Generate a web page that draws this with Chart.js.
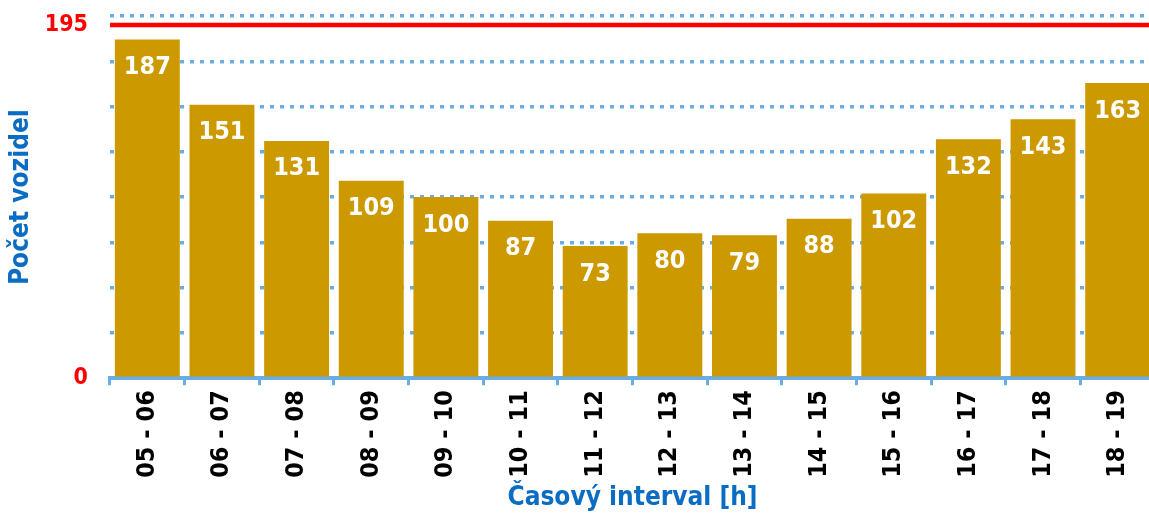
<!DOCTYPE html>
<html>
<head>
<meta charset="utf-8">
<script src="https://cdn.jsdelivr.net/npm/chart.js@4"></script>
<style>
  html, body { margin: 0; padding: 0; overflow: hidden; background: #fff; }
  #wrap { position: absolute; left: 0; top: 0; width: 1155px; height: 514px; }
</style>
</head>
<body>
<div id="wrap"><canvas id="myChart"></canvas></div>
<script>
'use strict';

const intervals = [
  '05 - 06', '06 - 07', '07 - 08', '08 - 09', '09 - 10', '10 - 11', '11 - 12',
  '12 - 13', '13 - 14', '14 - 15', '15 - 16', '16 - 17', '17 - 18', '18 - 19'
];
const vehicles = [187, 151, 131, 109, 100, 87, 73, 80, 79, 88, 102, 132, 143, 163];
const limitValue = 195;
const yLabels = [0, limitValue];

const font = 'DejaVu Sans Condensed';
const gridBlue = '#6aade4';
const titleBlue = '#0a6cc2';

// red limit line across the plot
const limitLine = {
  id: 'limitLine',
  beforeDatasetsDraw(chart) {
    const ctx = chart.ctx;
    const y = chart.scales.y.getPixelForValue(limitValue);
    ctx.save();
    ctx.strokeStyle = '#ff0000';
    ctx.lineWidth = 4.5;
    ctx.beginPath();
    ctx.moveTo(chart.chartArea.left, y);
    ctx.lineTo(chart.chartArea.right, y);
    ctx.stroke();
    ctx.restore();
  }
};

// white values inside the top of each bar
const barValues = {
  id: 'barValues',
  afterDatasetsDraw(chart) {
    const ctx = chart.ctx;
    const meta = chart.getDatasetMeta(0);
    ctx.save();
    ctx.fillStyle = '#ffffff';
    ctx.font = 'bold 25px "' + font + '"';
    ctx.textAlign = 'center';
    ctx.textBaseline = 'middle';
    meta.data.forEach(function (bar, i) {
      ctx.fillText(String(vehicles[i]), bar.x, bar.y + 28);
    });
    ctx.restore();
  }
};

const ctx = document.getElementById('myChart').getContext('2d');
new Chart(ctx, {
  type: 'bar',
  data: {
    labels: intervals,
    datasets: [
      {
        data: vehicles,
        backgroundColor: '#cc9900',
        borderWidth: 0,
        barPercentage: 0.87,
        categoryPercentage: 1
      }
    ]
  },
  options: {
    responsive: true,
    maintainAspectRatio: false,
    animation: false,
    layout: { padding: { top: 16, right: 0, bottom: 0, left: 0 } },
    plugins: {
      legend: { display: false },
      tooltip: { enabled: false }
    },
    scales: {
      x: {
        offset: true,
        grid: {
          offset: true,
          drawOnChartArea: false,
          drawTicks: true,
          tickLength: 7,
          color: gridBlue,
          lineWidth: 3
        },
        border: { display: true, color: gridBlue, width: 4 },
        ticks: {
          color: '#000000',
          font: { family: font, weight: 'bold', size: 25 },
          minRotation: 90,
          maxRotation: 90,
          autoSkip: false,
          padding: 5
        },
        title: {
          display: true,
          text: 'Časový interval [h]',
          color: titleBlue,
          font: { family: font, weight: 'bold', size: 26 },
          padding: { top: 0, bottom: 0 }
        }
      },
      y: {
        min: 0,
        max: 200,
        afterBuildTicks(axis) {
          const ticks = [];
          for (let v = 0; v <= 200; v += 25) ticks.push({ value: v });
          ticks.push({ value: limitValue });
          ticks.sort(function (a, b) { return a.value - b.value; });
          axis.ticks = ticks;
        },
        afterFit(axis) {
          axis.width = 110;
          axis.paddingTop = 0;
          axis.paddingBottom = 0;
        },
        grid: {
          drawTicks: false,
          lineWidth: 3.5,
          color(c) {
            if (c.tick && (c.tick.value === 0 || c.tick.value === limitValue)) return 'rgba(0,0,0,0)';
            return gridBlue;
          }
        },
        border: { display: false, dash: [4, 6] },
        ticks: {
          autoSkip: false,
          padding: 22,
          color: '#ff0000',
          font: { family: font, weight: 'bold', size: 23 },
          callback(value) {
            return yLabels.includes(value) ? String(value) : '';
          }
        },
        title: {
          display: true,
          text: 'Počet vozidel',
          color: titleBlue,
          font: { family: font, weight: 'bold', size: 26 },
          padding: { top: 6, bottom: 0 }
        }
      }
    }
  },
  plugins: [limitLine, barValues]
});
</script>
</body>
</html>
